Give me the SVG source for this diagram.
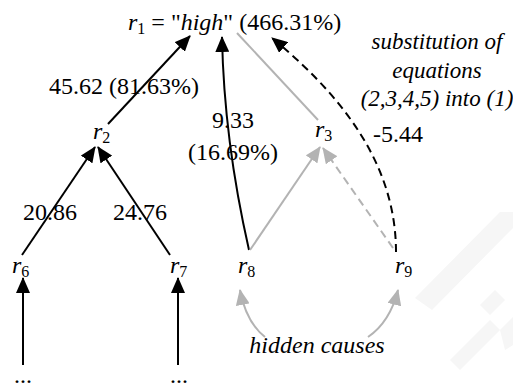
<svg xmlns="http://www.w3.org/2000/svg" width="513" height="390" viewBox="0 0 513 390">
<style>
.blk{stroke:#000;stroke-width:2;fill:none}
.gry{stroke:#b3b3b3;stroke-width:2;fill:none}
.dash{stroke-dasharray:8,5}
.wm{fill:#f6f6f6}
</style>
<defs>
<marker id="ab" markerUnits="userSpaceOnUse" markerWidth="16" markerHeight="14" refX="15" refY="7" orient="auto"><path d="M0,0 L16,7 L0,14 z" fill="#000"/></marker>
<marker id="ag" markerUnits="userSpaceOnUse" markerWidth="16" markerHeight="14" refX="15" refY="7" orient="auto"><path d="M0,0 L16,7 L0,14 z" fill="#b3b3b3"/></marker>
</defs>
<g id="watermark">
<polygon class="wm" points="415,298 500,212 513,212 513,228 432,310"/>
<polygon class="wm" points="480,305 495,290 505,300 490,315"/>
<polygon class="wm" points="450,360 490,320 500,330 460,370"/>
<polygon class="wm" points="500,330 513,317 513,345 505,350"/>
</g>
<g id="connectors">
<line class="blk" x1="108" y1="124" x2="190" y2="36" marker-end="url(#ab)"/>
<path class="blk" d="M249,250 Q224,140 222,37" marker-end="url(#ab)"/>
<line class="gry" x1="237" y1="33" x2="318" y2="120"/>
<path class="blk dash" d="M396,252 C396,180 360,110 272,38" marker-end="url(#ab)"/>
<line class="gry" x1="250" y1="250" x2="320" y2="147" marker-end="url(#ag)"/>
<line class="gry dash" x1="393" y1="248" x2="323" y2="148" marker-end="url(#ag)"/>
<line class="blk" x1="22" y1="255" x2="95" y2="147" marker-end="url(#ab)"/>
<line class="blk" x1="170" y1="255" x2="98" y2="147" marker-end="url(#ab)"/>
<line class="blk" x1="23" y1="365" x2="23" y2="278" marker-end="url(#ab)"/>
<line class="blk" x1="178" y1="365" x2="178" y2="278" marker-end="url(#ab)"/>
<path class="gry" d="M265,337 Q246,322 240,290" marker-end="url(#ag)"/>
<path class="gry" d="M368,337 Q390,322 398,290" marker-end="url(#ag)"/>
</g>
<g font-family="Liberation Serif" font-size="24">
<g id="r1"><text x="128" y="30" font-family="Liberation Serif" font-size="24"><tspan font-style="italic">r</tspan><tspan font-size="16" dy="4">1</tspan><tspan dy="-4"> = "</tspan><tspan font-style="italic">high</tspan>" (466.31%)</text></g>
<g id="r2"><text x="93" y="139" font-family="Liberation Serif" font-size="24"><tspan font-style="italic">r</tspan><tspan font-size="16" dy="4">2</tspan></text></g>
<g id="r3"><text x="315" y="137" font-family="Liberation Serif" font-size="24"><tspan font-style="italic">r</tspan><tspan font-size="16" dy="4">3</tspan></text></g>
<g id="r6"><text x="12" y="273" font-family="Liberation Serif" font-size="24"><tspan font-style="italic">r</tspan><tspan font-size="16" dy="4">6</tspan></text></g>
<g id="r7"><text x="170" y="273" font-family="Liberation Serif" font-size="24"><tspan font-style="italic">r</tspan><tspan font-size="16" dy="4">7</tspan></text></g>
<g id="r8"><text x="238" y="273" font-family="Liberation Serif" font-size="24"><tspan font-style="italic">r</tspan><tspan font-size="16" dy="4">8</tspan></text></g>
<g id="r9"><text x="395" y="273" font-family="Liberation Serif" font-size="24"><tspan font-style="italic">r</tspan><tspan font-size="16" dy="4">9</tspan></text></g>
<g id="dots6"><text x="14" y="383" font-family="Liberation Serif" font-size="24">...</text></g>
<g id="dots7"><text x="170" y="383" font-family="Liberation Serif" font-size="24">...</text></g>
<g id="labels">
<text x="49" y="94" font-family="Liberation Serif" font-size="24">45.62 (81.63%)</text>
<text x="233" y="128" text-anchor="middle" font-family="Liberation Serif" font-size="24">9.33</text>
<text x="233" y="160" text-anchor="middle" font-family="Liberation Serif" font-size="24">(16.69%)</text>
<text x="373" y="142" font-family="Liberation Serif" font-size="24">-5.44</text>
<text x="23" y="220" font-family="Liberation Serif" font-size="24">20.86</text>
<text x="113" y="220" font-family="Liberation Serif" font-size="24">24.76</text>
<text x="317" y="353" text-anchor="middle" font-style="italic" font-family="Liberation Serif" font-size="24">hidden causes</text>
<text x="437" y="49" text-anchor="middle" font-style="italic" font-family="Liberation Serif" font-size="23">substitution of</text>
<text x="437" y="78" text-anchor="middle" font-style="italic" font-family="Liberation Serif" font-size="23">equations</text>
<text x="437" y="106" text-anchor="middle" font-style="italic" font-family="Liberation Serif" font-size="23">(2,3,4,5) into (1)</text>
</g>
</g>
</svg>
